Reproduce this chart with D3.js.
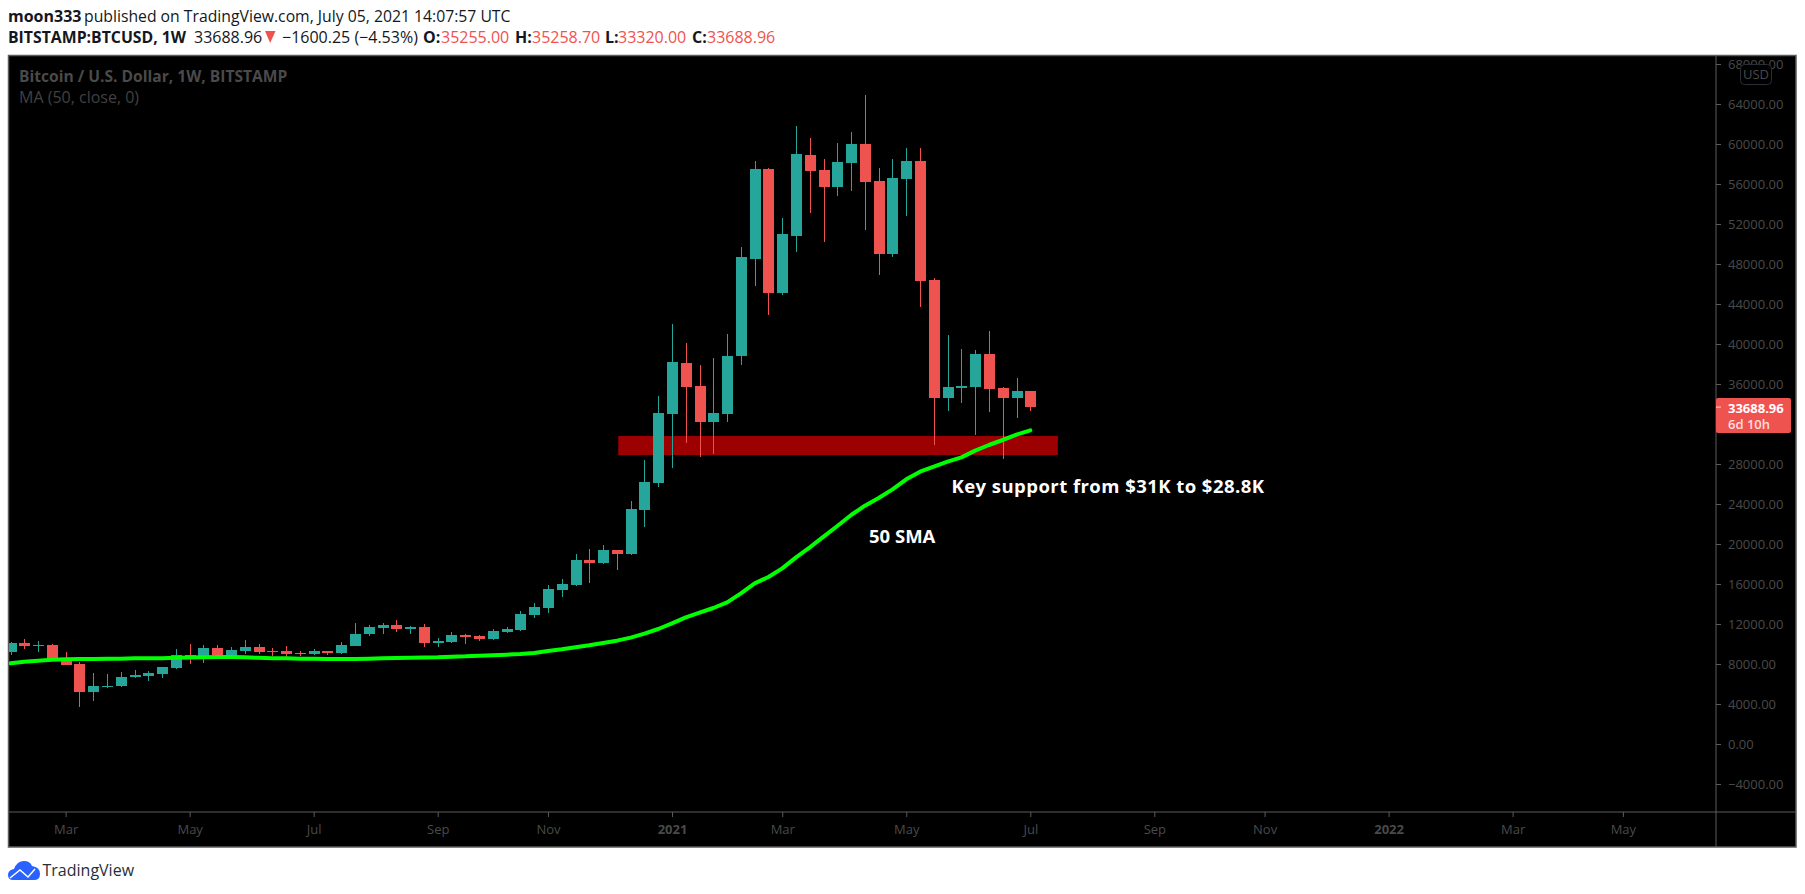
<!DOCTYPE html>
<html>
<head>
<meta charset="utf-8">
<title>BTCUSD 1W</title>
<script src="https://cdn.jsdelivr.net/npm/d3@7"></script>
<style>
    html, body { margin: 0; padding: 0; background: #fff; overflow: hidden; }
    svg { display: block; }
    text { font-family: "Open Sans", sans-serif; }
</style>
</head>
<body>
<div id="chart"></div>
<script>
// Weekly candles, oldest first. The first one is cut off by the left edge of the chart
var opens = [9200, 10100, 9800, 9900, 8600, 8000, 5200, 5700, 5800, 6700, 6800, 7000, 7600, 8900, 8800, 9600, 8800, 9300, 9700, 9300, 9300, 9100, 9000, 9300, 9100, 9800, 11000, 11600, 11900, 11500, 11700, 10100, 10200, 10900, 10800, 10500, 11200, 11400, 12900, 13600, 15400, 15900, 18400, 18100, 19400, 19000, 23400, 26100, 33000, 38100, 35800, 32200, 33000, 38800, 48500, 57500, 45100, 50800, 58900, 57400, 55700, 58100, 60000, 56300, 49000, 56500, 58300, 46400, 34600, 35600, 35700, 39000, 35600, 34600, 35255];
var highs = [10200, 10500, 10300, 10000, 9200, 8200, 7100, 7000, 7200, 7400, 7300, 7700, 9500, 10000, 9900, 9900, 9700, 10400, 10000, 9600, 9800, 9300, 9500, 9300, 10200, 12100, 11900, 12100, 12400, 11800, 12000, 10600, 11200, 11000, 10900, 11500, 11700, 13300, 14100, 15900, 16500, 19000, 19500, 19900, 19400, 24300, 28400, 34800, 42000, 40100, 37900, 38600, 41000, 49700, 58300, 57600, 52600, 61800, 60600, 58500, 60100, 61200, 64900, 57600, 58500, 59600, 59600, 46600, 40900, 39500, 39400, 41300, 35700, 36600, 35258.7];
var lows = [8900, 9500, 9200, 8400, 7900, 3700, 4300, 5600, 5700, 6600, 6300, 6600, 7500, 8000, 8100, 8700, 8600, 9000, 9000, 8800, 8700, 8800, 8900, 8900, 9000, 9800, 10800, 11000, 11200, 11000, 9700, 9700, 10100, 10000, 10300, 10400, 11100, 11300, 12600, 13100, 14700, 15800, 16100, 18000, 17400, 18900, 21700, 25700, 27600, 30100, 28700, 29000, 32200, 37900, 45800, 42900, 44900, 49200, 53100, 50200, 54800, 55300, 51400, 46900, 48700, 52800, 43700, 29900, 33300, 34100, 30900, 33200, 28500, 32600, 33320];
var closes = [10100, 9800, 9900, 8500, 7900, 5200, 5800, 5800, 6700, 6900, 7100, 7700, 8900, 8800, 9600, 8900, 9400, 9700, 9200, 9200, 9000, 9000, 9300, 9100, 9900, 11000, 11700, 11900, 11500, 11700, 10100, 10300, 10900, 10700, 10500, 11300, 11500, 13000, 13700, 15500, 16000, 18400, 18100, 19400, 19000, 23500, 26200, 33100, 38200, 35700, 32200, 33100, 38800, 48700, 57500, 45100, 51000, 59000, 57300, 55700, 58200, 60000, 56200, 49000, 56600, 58300, 46300, 34600, 35700, 35800, 39000, 35500, 34600, 35300, 33688.96];

// 50 week moving average
var sma50 = [8067, 8233, 8333, 8433, 8467, 8500, 8500, 8517, 8533, 8567, 8567, 8583, 8633, 8650, 8667, 8700, 8700, 8667, 8617, 8583, 8567, 8533, 8517, 8500, 8500, 8500, 8533, 8567, 8600, 8633, 8650, 8667, 8733, 8767, 8833, 8883, 8933, 9000, 9100, 9300, 9467, 9667, 9867, 10100, 10333, 10633, 11033, 11500, 12067, 12667, 13133, 13600, 14167, 15067, 16067, 16700, 17567, 18667, 19667, 20733, 21800, 22900, 23833, 24600, 25467, 26467, 27233, 27733, 28233, 28667, 29333, 29900, 30400, 30933, 31367];

var priceTicks = [-4000, 0, 4000, 8000, 12000, 16000, 20000, 24000, 28000, 32000, 36000, 40000, 44000, 48000, 52000, 56000, 60000, 64000, 68000];
var timeTickBars = [4, 13, 22, 31, 39, 48, 56, 65, 74, 83, 91, 100, 109, 117];
var timeTickLabels = ["Mar", "May", "Jul", "Sep", "Nov", "2021", "Mar", "May", "Jul", "Sep", "Nov", "2022", "Mar", "May"];

// Key support box
var zoneBars = [44.1, 76];
var zonePrices = [30800, 28900];

var lastPrice = 33688.96;

var svgWidth = 1805;
var svgHeight = 894;
var plot = { left: 8.5, right: 1716, top: 55.5, bottom: 812, outerRight: 1796, outerBottom: 847 };

var green = "#26a69a";
var red = "#ef5350";
var axisText = "#4a4a4a";
var axisLine = "#5c5c5c";

var svg = d3.select("#chart")
    .append("svg")
    .attr("width", svgWidth)
    .attr("height", svgHeight);

// Scales: one bar every 13.78px, 10px for every 1000 USD
var x = d3.scaleLinear().domain([0, 74]).range([10.5, 1030.3]);
var y = d3.scaleLinear().domain([0, 64000]).range([744, 104]);

// Dark panel
svg.append("rect")
    .attr("x", plot.left)
    .attr("y", plot.top)
    .attr("width", plot.outerRight - plot.left)
    .attr("height", plot.outerBottom - plot.top)
    .attr("fill", "#000")
    .attr("stroke", axisLine)
    .attr("stroke-width", 1.5);

svg.append("clipPath")
    .attr("id", "plot-clip")
    .append("rect")
    .attr("x", plot.left + 0.5)
    .attr("y", plot.top)
    .attr("width", plot.right - plot.left)
    .attr("height", plot.bottom - plot.top);

var chartGroup = svg.append("g").attr("clip-path", "url(#plot-clip)");

// Support zone goes under the candles
chartGroup.append("rect")
    .attr("x", x(zoneBars[0]))
    .attr("y", y(zonePrices[0]))
    .attr("width", x(zoneBars[1]) - x(zoneBars[0]))
    .attr("height", y(zonePrices[1]) - y(zonePrices[0]))
    .attr("fill", "#9c0000");

var candles = chartGroup.selectAll(".candle")
    .data(closes)
    .enter()
    .append("g")
    .attr("class", "candle")
    .attr("fill", (d, i) => d >= opens[i] ? green : red)
    .attr("stroke", "none")
    .attr("shape-rendering", "crispEdges");

candles.append("rect")
    .attr("x", (d, i) => Math.round(x(i)))
    .attr("y", (d, i) => y(highs[i]))
    .attr("width", 1)
    .attr("height", (d, i) => y(lows[i]) - y(highs[i]));

candles.append("rect")
    .attr("x", (d, i) => Math.round(x(i)) - 5)
    .attr("y", (d, i) => y(Math.max(opens[i], d)))
    .attr("width", 11)
    .attr("height", (d, i) => Math.max(1, Math.abs(y(opens[i]) - y(d))));

var smaLine = d3.line()
    .x((d, i) => x(i))
    .y(d => y(d));

chartGroup.append("path")
    .datum(sma50)
    .attr("d", smaLine)
    .attr("fill", "none")
    .attr("stroke", "#00ff00")
    .attr("stroke-width", 4)
    .attr("stroke-linecap", "round")
    .attr("stroke-linejoin", "round");

// Price axis
var priceAxis = d3.axisRight(y)
    .tickValues(priceTicks)
    .tickSize(5)
    .tickPadding(7)
    .tickFormat(d3.format(".2f"));

var priceGroup = svg.append("g")
    .attr("transform", `translate(${plot.right}, 0)`)
    .call(priceAxis);
priceGroup.select(".domain").remove();
priceGroup.selectAll("line").attr("stroke", axisLine);
priceGroup.selectAll("text")
    .attr("fill", axisText)
    .style("font-size", "13px");

// Time axis
var timeAxis = d3.axisBottom(x)
    .tickValues(timeTickBars)
    .tickSize(5)
    .tickPadding(8)
    .tickFormat((d, i) => timeTickLabels[i]);

var timeGroup = svg.append("g")
    .attr("transform", `translate(0, ${plot.bottom})`)
    .call(timeAxis);
timeGroup.select(".domain").remove();
timeGroup.selectAll("line").attr("stroke", axisLine);
timeGroup.selectAll("text")
    .attr("fill", axisText)
    .style("font-size", "13px")
    .style("font-weight", (d, i) => /^\d/.test(timeTickLabels[i]) ? "700" : "400");

svg.append("line")
    .attr("x1", plot.right).attr("x2", plot.right)
    .attr("y1", plot.top).attr("y2", plot.outerBottom)
    .attr("stroke", axisLine);
svg.append("line")
    .attr("x1", plot.left).attr("x2", plot.outerRight)
    .attr("y1", plot.bottom).attr("y2", plot.bottom)
    .attr("stroke", axisLine);

// USD badge sits on top of the 68000 label
svg.append("rect")
    .attr("x", 1740.5).attr("y", 64.5)
    .attr("width", 31).attr("height", 20)
    .attr("rx", 4)
    .attr("fill", "#000")
    .attr("stroke", "#2a2e39");
svg.append("text")
    .attr("x", 1756).attr("y", 79)
    .attr("text-anchor", "middle")
    .attr("fill", axisText)
    .style("font-size", "13px")
    .text("USD");

// Last price tag
svg.append("rect")
    .attr("x", plot.right).attr("y", y(lastPrice) - 9)
    .attr("width", 75).attr("height", 35)
    .attr("rx", 2)
    .attr("fill", red);
svg.append("line")
    .attr("x1", plot.right).attr("x2", plot.right + 5)
    .attr("y1", y(lastPrice)).attr("y2", y(lastPrice))
    .attr("stroke", "#ffd6d4");
svg.append("text")
    .attr("x", 1728).attr("y", y(lastPrice) + 6)
    .attr("fill", "#fff")
    .style("font-size", "13px")
    .style("font-weight", "700")
    .text(d3.format(".2f")(lastPrice));
svg.append("text")
    .attr("x", 1728).attr("y", y(lastPrice) + 22)
    .attr("fill", "#ffdedc")
    .style("font-size", "13px")
    .style("font-weight", "600")
    .text("6d 10h");

// Legend in the top left of the panel
svg.append("text")
    .attr("x", 19).attr("y", 82)
    .attr("fill", "#4a4a4a")
    .style("font-size", "15.6px")
    .style("font-weight", "700")
    .text("Bitcoin / U.S. Dollar, 1W, BITSTAMP");
svg.append("text")
    .attr("x", 19).attr("y", 103)
    .attr("fill", "#404040")
    .style("font-size", "16px")
    .text("MA (50, close, 0)");

// Hand written notes on the chart
svg.append("text")
    .attr("x", 951.5).attr("y", 492.5)
    .attr("fill", "#fff")
    .style("font-size", "18.5px")
    .style("font-weight", "700")
    .style("letter-spacing", "0.45px")
    .text("Key support from $31K to $28.8K");
svg.append("text")
    .attr("x", 869).attr("y", 543)
    .attr("fill", "#fff")
    .style("font-size", "18.5px")
    .style("font-weight", "700")
    .text("50 SMA");

// Header above the chart
function headerText(px, py, str, color, weight, size) {
    svg.append("text")
        .attr("x", px).attr("y", py)
        .attr("fill", color)
        .style("font-size", (size || 16) + "px")
        .style("font-weight", weight)
        .text(str);
}
var ink = "#131722";
headerText(8, 22, "moon333", ink, 700);
headerText(84, 22, "published on TradingView.com, July 05, 2021 14:07:57 UTC", ink, 400, 15.75);
headerText(8, 43, "BITSTAMP:BTCUSD, 1W", ink, 700, 15.8);
headerText(194, 43, "33688.96", ink, 400);
svg.append("path")
    .attr("d", "M265 31 L275.5 31 L270.2 43 Z")
    .attr("fill", red);
headerText(282, 43, "\u22121600.25 (\u22124.53%)", ink, 400);
headerText(423, 43, "O:", ink, 700);
headerText(441, 43, "35255.00", red, 400);
headerText(515, 43, "H:", ink, 700);
headerText(532, 43, "35258.70", red, 400);
headerText(605, 43, "L:", ink, 700);
headerText(618, 43, "33320.00", red, 400);
headerText(692, 43, "C:", ink, 700);
headerText(707, 43, "33688.96", red, 400);

// TradingView mark at the bottom
svg.append("path")
    .attr("d", "M8 875 Q8 870 14 869 Q17 861 24 861 Q30 861 32 866 Q40 867 40 874 Q40 880 34 880 L13 880 Q8 880 8 875 Z")
    .attr("fill", "#2962ff");
svg.append("path")
    .attr("d", "M10 878 L20 870 L28 877 L35 869")
    .attr("fill", "none")
    .attr("stroke", "#fff")
    .attr("stroke-width", 1.5);
svg.append("text")
    .attr("x", 42.5).attr("y", 876)
    .attr("fill", "#2a2e39")
    .style("font-size", "16px")
    .text("TradingView");
</script>
</body>
</html>
